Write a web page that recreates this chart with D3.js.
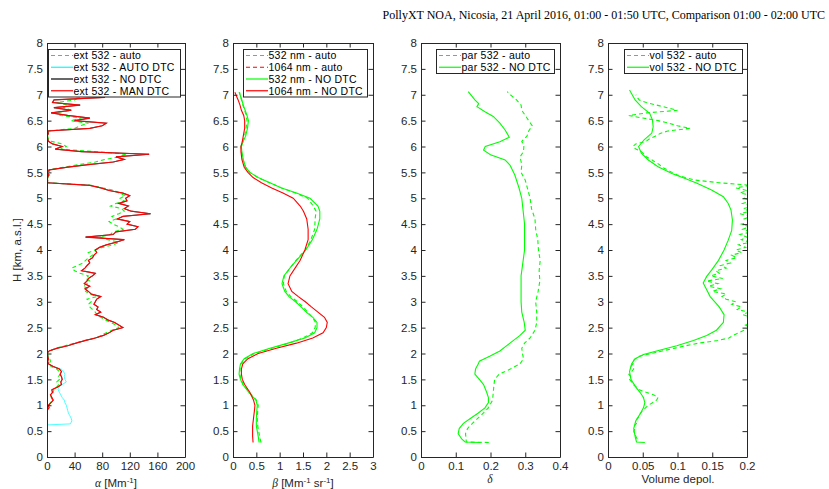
<!DOCTYPE html>
<meta charset="utf-8">
<style>
  body { margin: 0; background: #fff; }
  .tick text { font-family: "Liberation Sans", Arial, sans-serif; font-size: 11.5px; fill: #262626; }
  .domain, .tick line { stroke: #262626; }
  .leg text { font-family: "Liberation Sans", Arial, sans-serif; font-size: 10.5px; letter-spacing: 0.25px; fill: #000; }
  .lab { font-family: "Liberation Sans", Arial, sans-serif; font-size: 11.5px; fill: #262626; }
</style>
<body>
<script src="https://d3js.org/d3.v7.min.js"></script>
<script>
// altitude grid of the raw profiles [km]
var altGrid = [0.35,0.4,0.45,0.5,0.55,0.6,0.65,0.7,0.75,0.8,0.85,0.9,0.95,1,
  1.05,1.1,1.15,1.2,1.25,1.3,1.35,1.4,1.45,1.5,1.55,1.6,1.65,1.7,1.75,1.8,1.85,1.9,1.95,2,
  2.05,2.1,2.15,2.2,2.25,2.3,2.35,2.4,2.45,2.5,2.55,2.6,2.65,2.7,2.75,2.8,2.85,2.9,2.95,3,
  3.05,3.1,3.15,3.2,3.25,3.3,3.35,3.4,3.45,3.5,3.55,3.6,3.65,3.7,3.75,3.8,3.85,3.9,3.95,4,
  4.05,4.1,4.15,4.2,4.25,4.3,4.35,4.4,4.45,4.5,4.55,4.6,4.65,4.7,4.75,4.8,4.85,4.9,4.95,5,
  5.05,5.1,5.15,5.2,5.25,5.3,5.35,5.4,5.45,5.5,5.55,5.6,5.65,5.7,5.75,5.8,5.85,5.9,5.95,6,
  6.05,6.1,6.15,6.2,6.25,6.3,6.35,6.4,6.45,6.5,6.55,6.6,6.65,6.7,6.75,6.8,6.85,6.9,6.95,7];

// extinction 532 [Mm-1], from 0.90 km
var extMan = [0,3,2,6,9,7,5,8,7,15,21,20,22,21,19,21,18,9,2,1,2,1,0,
  3,14,30,42,55,70,82,90,96,110,104,98,88,82,70,78,72,74,68,70,
  72,78,64,60,55,62,54,58,60,66,70,50,55,58,62,60,66,68,72,70,
  76,86,100,112,56,96,100,128,132,116,120,102,110,150,122,112,118,104,116,114,
  120,110,90,78,62,0,1,0,3,0,4,30,60,96,112,100,148,50,12,22,
  8,2,1,0,2,1,62,80,86,40,62,30,6,35,10,48,8,10,84,null];
var extNoDtc = extMan;
// from 1.00 km
var extAuto = [3,5,8,6,6,9,10,14,17,14,18,16,20,18,14,6,3,5,4,2,1,
  4,12,26,40,54,72,78,86,94,104,100,92,84,78,72,70,66,62,60,64,
  58,72,62,56,60,52,58,62,56,60,48,40,36,44,52,56,60,66,60,70,
  80,96,104,88,76,92,96,110,104,96,90,100,94,104,112,108,92,100,112,106,
  114,104,98,80,64,2,0,2,1,4,2,24,46,70,84,104,116,72,20,28,
  22,6,2,1,3,2,40,48,60,34,50,20,10,36,24,30,14,40,48,20];
// AUTO DTC below 1.85 km (above it equals MAN DTC)
var extAutoDtcAlt = [0.62,0.64,0.7,0.75,0.8,0.85,0.9,0.95,1,1.05,1.1,1.15,1.2,1.25,1.3,1.35,1.4,1.45,1.5,1.55,1.6,1.65,1.7,1.75,1.8];
var extAutoDtcLow = [0,34,36,35,33,31,30,29,28,26,25,22,20,18,16,17,22,28,26,25,26,24,20,9,2];

// backscatter [Mm-1 sr-1]
var bscAlt = [0.28,0.4,0.5,0.6,0.75,0.9,1,1.1,1.25,1.4,1.5,1.6,1.7,1.8,1.9,2,2.1,2.2,2.3,2.4,2.5,2.6,2.7,2.8,2.9,3,3.1,3.2,3.35,3.5,3.65,3.8,4,4.2,4.4,4.6,4.75,4.85,5,5.1,5.2,5.3,5.4,5.5,5.6,5.75,5.9,6,6.1,6.2,6.35,6.5,6.6,6.7,6.8,6.9,7.05];
var bsc532NoDtc = [0.56,0.54,0.52,0.5,0.5,0.51,0.52,0.49,0.34,0.21,0.16,0.13,0.14,0.16,0.24,0.43,0.79,1.18,1.54,1.75,1.8,1.8,1.71,1.57,1.46,1.34,1.2,1.11,1.05,1.09,1.22,1.36,1.56,1.7,1.8,1.86,1.86,1.82,1.65,1.36,1.04,0.79,0.54,0.36,0.27,0.22,0.19,0.18,0.22,0.27,0.31,0.33,0.3,0.26,0.22,0.19,0.13];
var bsc532Auto = [0.6,0.57,0.55,0.53,0.52,0.53,0.54,0.5,0.35,0.22,0.17,0.15,0.15,0.17,0.26,0.46,0.83,1.2,1.5,1.7,1.76,1.77,1.7,1.6,1.5,1.38,1.24,1.14,1.08,1.1,1.22,1.35,1.55,1.67,1.75,1.76,1.78,1.72,1.6,1.34,1.04,0.78,0.53,0.36,0.27,0.21,0.18,0.17,0.2,0.25,0.28,0.3,0.28,0.25,0.21,0.18,0.14];
var bsc1064NoDtc = [0.43,0.42,0.42,0.42,0.44,0.46,0.47,0.44,0.36,0.25,0.2,0.18,0.18,0.21,0.32,0.54,0.93,1.36,1.71,1.93,2,2.02,1.96,1.82,1.68,1.55,1.4,1.26,1.18,1.22,1.33,1.44,1.54,1.61,1.61,1.58,1.51,1.44,1.29,1.07,0.83,0.61,0.43,0.32,0.24,0.19,0.17,0.17,0.2,0.22,0.25,0.25,0.23,0.18,0.15,0.11,0.04];
var bsc1064AutoAlt = [0.28,1,2,3,4,5,6,7.05];
var bsc1064Auto = [0.01,0.01,0.01,0.01,0.01,0.01,0.01,0.01];

// particle depolarization 532
var parNoDtcAlt = [0.28,0.29,0.35,0.45,0.55,0.65,0.75,0.85,0.95,1.05,1.15,1.25,1.4,1.5,1.6,1.7,1.8,1.85,1.95,2.05,2.2,2.35,2.45,2.6,2.8,3,3.5,4,4.5,5,5.2,5.45,5.64,5.74,5.84,5.93,6,6.09,6.18,6.32,6.45,6.58,6.67,6.77,6.83,6.9,7.06];
var parNoDtc = [0.17,0.127,0.117,0.107,0.11,0.122,0.143,0.165,0.184,0.194,0.194,0.189,0.18,0.168,0.155,0.157,0.165,0.168,0.199,0.227,0.256,0.285,0.3,0.297,0.29,0.288,0.288,0.298,0.298,0.29,0.282,0.27,0.256,0.242,0.2,0.18,0.185,0.227,0.254,0.242,0.227,0.208,0.184,0.161,0.166,0.155,0.136];
var parAutoAlt = [0.28,0.29,0.35,0.45,0.55,0.65,0.8,0.95,1.1,1.25,1.4,1.5,1.6,1.7,1.8,1.9,2,2.1,2.2,2.3,2.45,2.6,2.8,3,3.2,3.4,3.6,3.8,4,4.2,4.4,4.6,4.8,5,5.2,5.35,5.5,5.65,5.8,5.9,6,6.1,6.2,6.3,6.4,6.5,6.6,6.7,6.8,6.9,7,7.06];
var parAuto = [0.195,0.13,0.13,0.128,0.134,0.148,0.172,0.194,0.206,0.208,0.21,0.212,0.225,0.257,0.285,0.295,0.292,0.29,0.298,0.314,0.328,0.333,0.333,0.33,0.337,0.342,0.34,0.343,0.338,0.336,0.33,0.328,0.318,0.314,0.306,0.3,0.288,0.29,0.285,0.295,0.296,0.29,0.305,0.31,0.32,0.31,0.3,0.29,0.288,0.275,0.257,0.248];

// volume depolarization 532
var volNoDtcAlt = [0.28,0.29,0.4,0.55,0.7,0.85,0.95,1.05,1.15,1.25,1.35,1.5,1.65,1.8,1.9,1.98,2.05,2.15,2.25,2.35,2.45,2.6,2.75,2.9,3.1,3.23,3.36,3.49,3.61,3.8,4,4.19,4.38,4.58,4.77,4.9,5.03,5.16,5.29,5.38,5.48,5.61,5.74,5.87,6,6.13,6.26,6.38,6.51,6.64,6.77,6.9,7.09];
var volNoDtc = [0.053,0.041,0.039,0.037,0.04,0.047,0.051,0.053,0.051,0.046,0.04,0.033,0.031,0.034,0.039,0.051,0.07,0.099,0.123,0.142,0.156,0.166,0.167,0.16,0.147,0.142,0.137,0.142,0.149,0.159,0.167,0.173,0.178,0.179,0.177,0.173,0.166,0.149,0.128,0.111,0.092,0.072,0.058,0.048,0.044,0.052,0.063,0.065,0.064,0.06,0.048,0.039,0.031];
// from 0.35 km on altGrid
var volAuto = [0.042,0.04,0.038,0.037,0.039,0.038,0.041,0.04,0.043,0.045,0.047,0.05,0.054,0.058,
  0.064,0.07,0.072,0.066,0.055,0.045,0.041,0.036,0.034,0.031,0.033,0.03,0.034,0.037,0.033,0.036,0.035,0.04,0.046,0.062,
  0.078,0.096,0.112,0.13,0.158,0.174,0.18,0.188,0.196,0.205,0.198,0.21,0.2,0.206,0.194,0.202,0.186,0.192,0.178,0.184,
  0.17,0.164,0.17,0.15,0.162,0.145,0.158,0.142,0.165,0.148,0.16,0.155,0.17,0.162,0.176,0.17,0.185,0.178,0.192,0.184,
  0.198,0.188,0.204,0.192,0.2,0.19,0.206,0.194,0.203,0.192,0.208,0.196,0.205,0.19,0.204,0.195,0.21,0.194,0.206,0.196,
  0.21,0.19,0.2,0.184,0.205,0.16,0.126,0.111,0.1,0.092,0.085,0.078,0.074,0.068,0.062,0.055,0.052,0.048,0.04,0.036,
  0.04,0.055,0.06,0.068,0.075,0.086,0.118,0.1,0.088,0.072,0.05,0.03,0.056,0.1,0.085,0.07,0.055,0.045,0.042,0.04];

var yTicks = [0,0.5,1,1.5,2,2.5,3,3.5,4,4.5,5,5.5,6,6.5,7,7.5,8];

// profiles on the grid end at 7 km
function onGrid(v) { return altGrid.slice(altGrid.length - v.length); }

var extManAlt = onGrid(extMan);
var autoDtcAlt = extAutoDtcAlt.concat(extManAlt.filter(function(h) { return h >= 1.85; }));
var autoDtcVal = extAutoDtcLow.concat(extMan.slice(extManAlt.indexOf(1.85)));

var panels = [
  { left: 47, right: 185, domain: [0, 200], ticks: [0,40,80,120,160,200],
    legend: { x: 48, w: 132 },
    series: [
      { name: "ext 532 - auto", h: onGrid(extAuto), v: extAuto, color: "#00ff00", dash: true },
      { name: "ext 532 - AUTO DTC", h: autoDtcAlt, v: autoDtcVal, color: "#00ffff", width: 0.7 },
      { name: "ext 532 - NO DTC", h: extManAlt, v: extNoDtc, color: "#000000", width: 0.5 },
      { name: "ext 532 - MAN DTC", h: extManAlt, v: extMan, color: "#ff0000", width: 1.2 }
    ] },
  { left: 233, right: 373, domain: [0, 3], ticks: [0,0.5,1,1.5,2,2.5,3],
    legend: { x: 243, w: 124 },
    series: [
      { name: "532 nm - auto", h: bscAlt, v: bsc532Auto, color: "#00ff00", dash: true },
      { name: "1064 nm - auto", h: bsc1064AutoAlt, v: bsc1064Auto, color: "#ff0000", dash: true },
      { name: "532 nm - NO DTC", h: bscAlt, v: bsc532NoDtc, color: "#00ff00" },
      { name: "1064 nm - NO DTC", h: bscAlt, v: bsc1064NoDtc, color: "#ff0000" }
    ] },
  { left: 421, right: 560, domain: [0, 0.4], ticks: [0,0.1,0.2,0.3,0.4],
    legend: { x: 436, w: 118 },
    series: [
      { name: "par 532 - auto", h: parAutoAlt, v: parAuto, color: "#00ff00", dash: true },
      { name: "par 532 - NO DTC", h: parNoDtcAlt, v: parNoDtc, color: "#00ff00" }
    ] },
  { left: 608, right: 747, domain: [0, 0.2], ticks: [0,0.05,0.1,0.15,0.2],
    legend: { x: 624, w: 118 },
    series: [
      { name: "vol 532 - auto", h: onGrid(volAuto), v: volAuto, color: "#00ff00", dash: true },
      { name: "vol 532 - NO DTC", h: volNoDtcAlt, v: volNoDtc, color: "#00ff00" }
    ] }
];

var svg = d3.select("body").append("svg")
  .attr("width", 829)
  .attr("height", 489);

var y = d3.scaleLinear().domain([0, 8]).range([457, 43]);

panels.forEach(function(p, k) {
  var x = d3.scaleLinear().domain(p.domain).range([p.left, p.right]);
  var g = svg.append("g");

  g.append("clipPath").attr("id", "clip" + k)
    .append("rect")
    .attr("x", p.left).attr("y", 43)
    .attr("width", p.right - p.left).attr("height", 414);

  var plot = g.append("g").attr("clip-path", "url(#clip" + k + ")");
  var line = d3.line()
    .defined(function(d) { return d[0] != null; })
    .x(function(d) { return x(d[0]); })
    .y(function(d) { return y(d[1]); });

  p.series.forEach(function(s) {
    var pts = s.h.map(function(h, i) { return [s.v[i], h]; });
    plot.append("path").datum(pts)
      .attr("fill", "none")
      .attr("stroke", s.color)
      .attr("stroke-width", s.width || 1.1)
      .attr("stroke-dasharray", s.dash ? "4,3" : null)
      .attr("d", line);
  });

  var fmt = function(d) { return String(d); };
  // box with inward ticks
  g.append("g").attr("transform", "translate(0,457)")
    .call(d3.axisBottom(x).tickValues(p.ticks).tickSize(-4.5).tickSizeOuter(0).tickPadding(5).tickFormat(fmt));
  g.append("g").attr("transform", "translate(0,43)")
    .call(d3.axisTop(x).tickValues(p.ticks).tickSize(-4.5).tickSizeOuter(0).tickFormat(""));
  g.append("g").attr("transform", "translate(" + p.left + ",0)")
    .call(d3.axisLeft(y).tickValues(yTicks).tickSize(-4.5).tickSizeOuter(0).tickPadding(4).tickFormat(fmt));
  g.append("g").attr("transform", "translate(" + p.right + ",0)")
    .call(d3.axisRight(y).tickValues(yTicks).tickSize(-4.5).tickSizeOuter(0).tickFormat(""));
  g.selectAll("g").attr("font-size", null).attr("font-family", null);

  // legend
  var n = p.series.length;
  var step = 11.75;
  var leg = g.append("g").attr("class", "leg");
  leg.append("rect")
    .attr("x", p.legend.x + 0.5).attr("y", 49.5)
    .attr("width", p.legend.w).attr("height", n * step + 0.5)
    .attr("fill", "#fff").attr("stroke", "#262626").attr("stroke-width", 1);
  p.series.forEach(function(s, i) {
    var cy = 55.5 + i * step;
    leg.append("line")
      .attr("x1", p.legend.x + 3).attr("x2", p.legend.x + 25)
      .attr("y1", cy).attr("y2", cy)
      .attr("stroke", s.color).attr("stroke-width", 1.2)
      .attr("stroke-dasharray", s.dash ? "4,3" : null);
    leg.append("text")
      .attr("x", p.legend.x + 25.5).attr("y", cy + 3.8)
      .text(s.name);
  });
});

// axis labels
var greek = "'Liberation Serif', 'DejaVu Serif', serif";
var t1 = svg.append("text").attr("class", "lab").attr("x", 116).attr("y", 487).attr("text-anchor", "middle");
t1.append("tspan").style("font-family", greek).attr("font-style", "italic").text("α");
t1.append("tspan").text(" [Mm");
t1.append("tspan").attr("dy", -4).attr("font-size", 8).text("-1");
t1.append("tspan").attr("dy", 4).text("]");

var t2 = svg.append("text").attr("class", "lab").attr("x", 303).attr("y", 487).attr("text-anchor", "middle");
t2.append("tspan").style("font-family", greek).attr("font-style", "italic").text("β");
t2.append("tspan").text(" [Mm");
t2.append("tspan").attr("dy", -4).attr("font-size", 8).text("-1");
t2.append("tspan").attr("dy", 4).text(" sr");
t2.append("tspan").attr("dy", -4).attr("font-size", 8).text("-1");
t2.append("tspan").attr("dy", 4).text("]");

svg.append("text").attr("class", "lab").attr("x", 490).attr("y", 483)
  .attr("text-anchor", "middle").attr("font-style", "italic")
  .style("font-family", greek).text("δ");

svg.append("text").attr("class", "lab").attr("x", 678).attr("y", 483)
  .attr("text-anchor", "middle").text("Volume depol.");

svg.append("text").attr("class", "lab")
  .attr("transform", "translate(21,250) rotate(-90)")
  .attr("text-anchor", "middle").text("H [km, a.s.l.]");

// title
svg.append("text")
  .attr("x", 825).attr("y", 19)
  .attr("text-anchor", "end")
  .attr("font-family", "'Liberation Serif', 'Times New Roman', serif")
  .attr("font-size", 12)
  .attr("fill", "#000")
  .text("PollyXT NOA, Nicosia, 21 April 2016, 01:00 - 01:50 UTC, Comparison 01:00 - 02:00 UTC");
</script>
</body>
